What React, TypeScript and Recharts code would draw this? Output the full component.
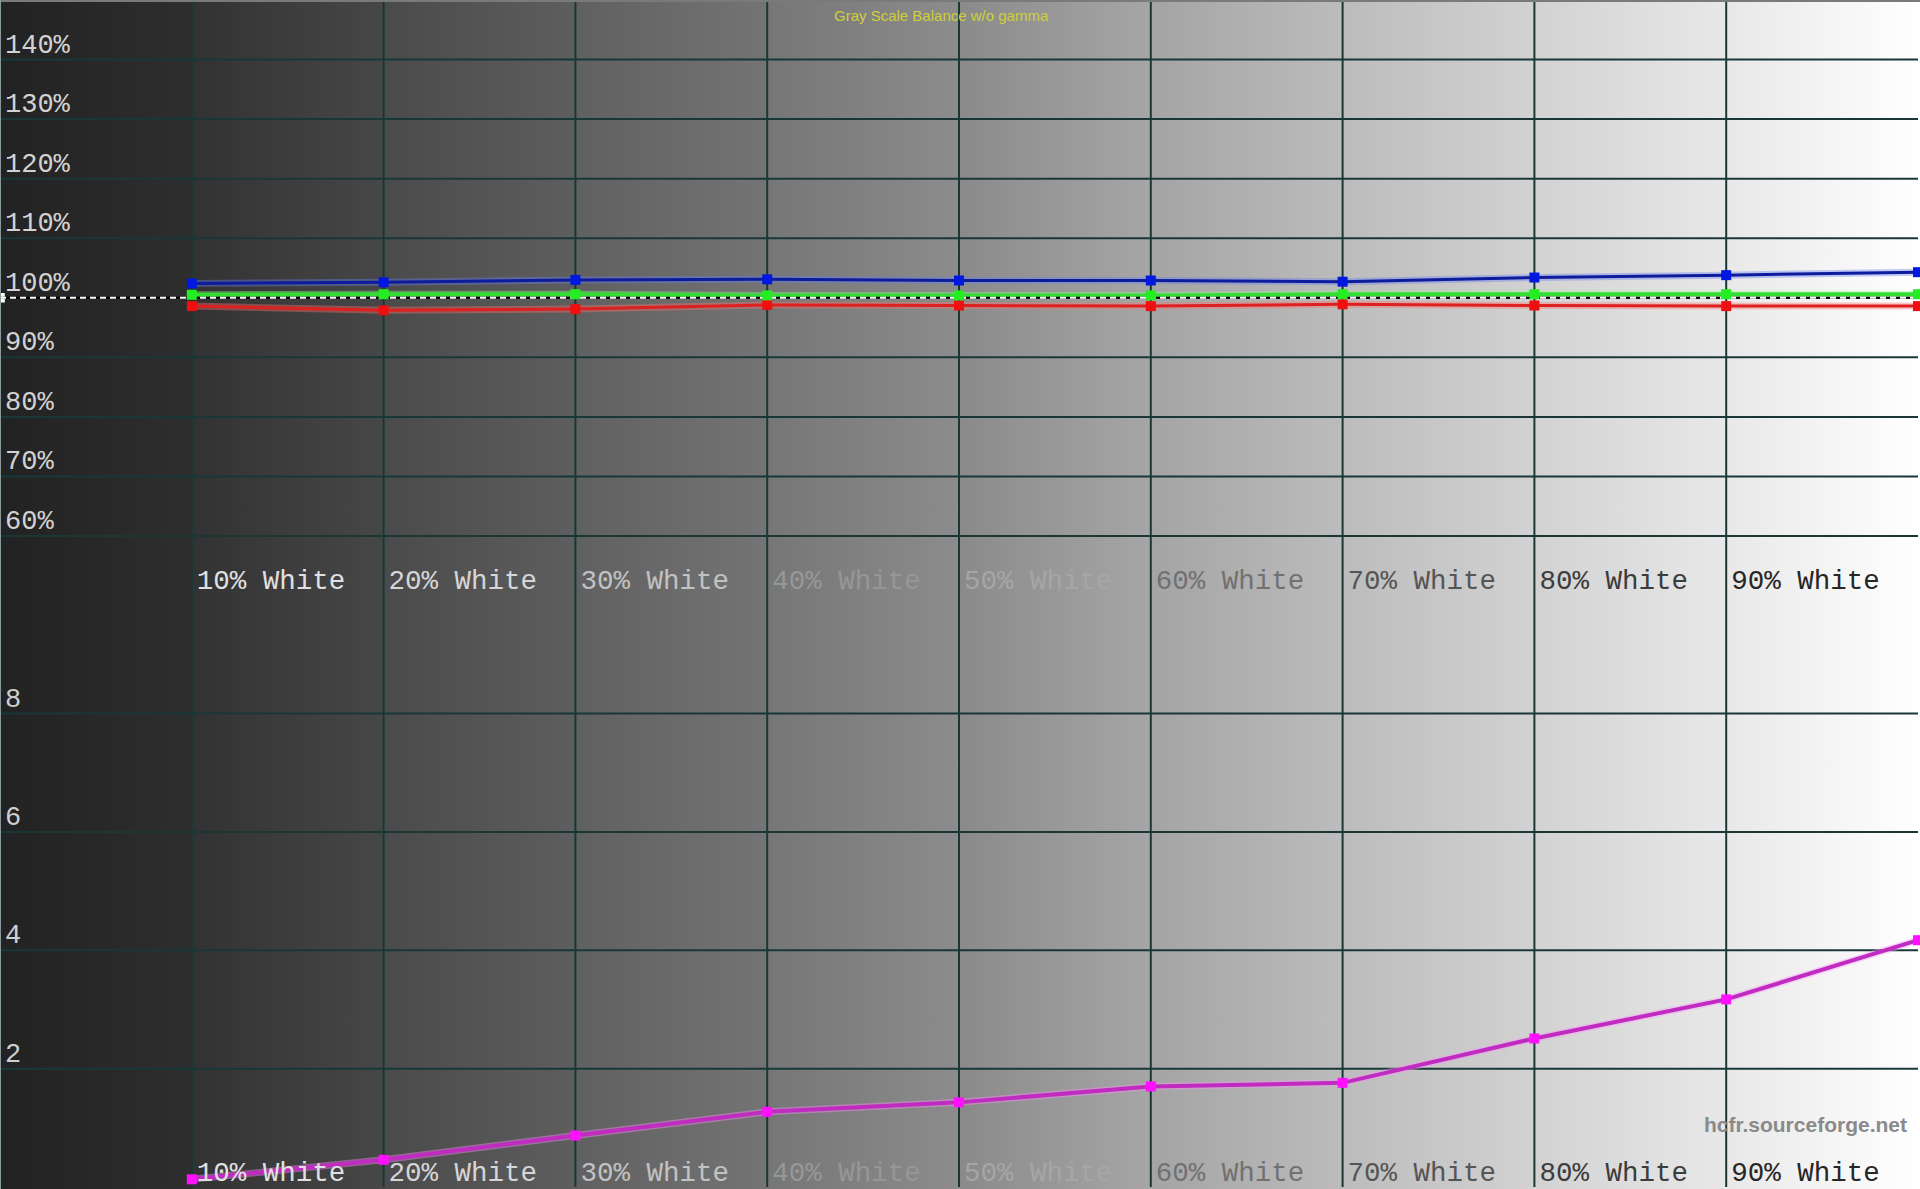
import * as React from "react";
import { LineChart, Line, XAxis, YAxis, CartesianGrid, ReferenceLine, ReferenceArea } from "recharts";

// stimulus levels (% white) and what HCFR measured at each
const STEPS = [10, 20, 30, 40, 50, 60, 70, 80, 90, 100];
const STEP_LABELS = [
  "10% White",
  "20% White",
  "30% White",
  "40% White",
  "50% White",
  "60% White",
  "70% White",
  "80% White",
  "90% White",
];
const RED = [98.6, 97.9, 98.1, 98.8, 98.7, 98.6, 98.9, 98.7, 98.6, 98.6];
const GREEN = [100.5, 100.6, 100.6, 100.4, 100.4, 100.4, 100.6, 100.6, 100.6, 100.6];
const BLUE = [102.4, 102.6, 103.0, 103.1, 102.9, 102.9, 102.7, 103.4, 103.8, 104.3];
const DELTA_E = [0.13, 0.46, 0.87, 1.27, 1.43, 1.7, 1.76, 2.51, 3.17, 4.17];

const PCT_TICKS = [60, 70, 80, 90, 100, 110, 120, 130, 140];
const DE_TICKS = [2, 4, 6, 8];

const W = 1920;
const TOP_H = 536;
const BOTTOM_H = 653;
const GRID = "#183838";
const MONO = "'Liberation Mono', 'DejaVu Sans Mono', monospace";

// label ink per column, picked to match the grey ramp behind it
const LABEL_INK = ["#e0e0e0", "#d6d6d6", "#c2c2c2", "#979797", "#a6a6a6", "#717171", "#555555", "#3c3c3c", "#262626"];

// each 10% column has its own little ramp
const BAND_RAMP = [
  ["#222222", "#2e2e2e"],
  ["#323232", "#474747"],
  ["#4a4a4a", "#5e5e5e"],
  ["#606060", "#747474"],
  ["#767676", "#8c8c8c"],
  ["#8a8a8a", "#a6a6a6"],
  ["#a4a4a4", "#bcbcbc"],
  ["#bcbcbc", "#d2d2d2"],
  ["#d2d2d2", "#e8e8e8"],
  ["#e8e8e8", "#ffffff"],
];

const balanceRows = STEPS.map((s, i) => ({ step: s, r: RED[i], g: GREEN[i], b: BLUE[i] }));
const deltaRows = STEPS.map((s, i) => ({ step: s, de: DELTA_E[i] }));
const gridX = STEPS.slice(0, 9);

const bandWidth = (W - 2) / 10;
const background = `linear-gradient(to right, ${BAND_RAMP.map(
  ([a, b], i) => `${a} ${(i * bandWidth).toFixed(1)}px, ${b} ${((i + 1) * bandWidth).toFixed(1)}px`
).join(", ")})`;

function square(fill: string, size = 10) {
  return (props: any) => {
    const { cx, cy, index } = props;
    if (cx == null || cy == null) return <g key={`x-${fill}-${index}`} />;
    return (
      <rect key={`sq-${fill}-${index}`} x={cx - size / 2} y={cy - size / 2} width={size} height={size} fill={fill} />
    );
  };
}

function PctTick({ y, payload }: any) {
  return (
    <text x={5} y={y - 7} fill="#d2d2d2" fontSize={27} fontFamily={MONO} textAnchor="start">
      {`${payload.value}%`}
    </text>
  );
}

function DeTick({ y, payload }: any) {
  return (
    <text x={5} y={y - 7} fill="#cfcfcf" fontSize={27} fontFamily={MONO} textAnchor="start">
      {payload.value}
    </text>
  );
}

function stepTick(dy: number) {
  return ({ x, y, payload }: any) => {
    const i = STEPS.indexOf(payload.value);
    return (
      <text x={x + 5} y={y + dy} fill={LABEL_INK[i]} fontSize={27.5} fontFamily={MONO} textAnchor="start">
        {STEP_LABELS[i]}
      </text>
    );
  };
}

// soft halo under each trace, the screenshot has that blurry edge
function halo(key: string, color: string) {
  return (
    <Line
      key={`halo-${key}`}
      type="linear"
      dataKey={key}
      stroke={color}
      strokeOpacity={0.4}
      strokeWidth={7}
      dot={false}
      activeDot={false}
      isAnimationActive={false}
    />
  );
}

export default function App(): React.ReactElement {
  return (
    <div style={{ position: "relative", width: W, height: TOP_H + BOTTOM_H, background, overflow: "hidden" }}>
      <style>{"body{margin:0}"}</style>

      <LineChart width={W} height={TOP_H} data={balanceRows} margin={{ top: 0, right: 2, bottom: 0, left: 0 }}>
        <CartesianGrid stroke={GRID} strokeWidth={2} horizontalValues={PCT_TICKS} verticalValues={gridX} />
        <XAxis dataKey="step" type="number" domain={[0, 100]} ticks={gridX} hide />
        <YAxis
          type="number"
          domain={[60, 150]}
          ticks={PCT_TICKS}
          mirror
          width={80}
          axisLine={false}
          tickLine={false}
          tickSize={0}
          tick={<PctTick />}
          interval={0}
          allowDataOverflow
        />
        {halo("b", "#6a7cf0")}
        {halo("r", "#ff7070")}
        {halo("g", "#90ff90")}
        <Line
          type="linear"
          dataKey="b"
          stroke="#0c1c9c"
          strokeWidth={3}
          dot={square("#0018e0")}
          activeDot={false}
          isAnimationActive={false}
        />
        <Line
          type="linear"
          dataKey="r"
          stroke="#dd2020"
          strokeWidth={3}
          dot={square("#ee1010")}
          activeDot={false}
          isAnimationActive={false}
        />
        <Line
          type="linear"
          dataKey="g"
          stroke="#33dd33"
          strokeWidth={4}
          dot={square("#22ee22")}
          activeDot={false}
          isAnimationActive={false}
        />
        <ReferenceLine y={100} stroke="#000000" strokeWidth={2} />
        <ReferenceLine y={100} stroke="#ffffff" strokeWidth={2} strokeDasharray="6 4" />
        <ReferenceArea x1={0} x2={0.25} y1={99.2} y2={100.8} fill="#ffffff" fillOpacity={1} stroke="none" />
      </LineChart>

      <LineChart width={W} height={BOTTOM_H} data={deltaRows} margin={{ top: 0, right: 2, bottom: 2, left: 0 }}>
        <CartesianGrid stroke={GRID} strokeWidth={2} horizontalValues={[...DE_TICKS, 11]} verticalValues={gridX} />
        <XAxis
          dataKey="step"
          type="number"
          domain={[0, 100]}
          ticks={gridX}
          mirror
          height={40}
          axisLine={false}
          tickLine={false}
          tickSize={0}
          tickMargin={0}
          tick={stepTick(-6)}
          interval={0}
        />
        <XAxis
          xAxisId="top"
          orientation="top"
          dataKey="step"
          type="number"
          domain={[0, 100]}
          ticks={gridX}
          mirror
          height={40}
          axisLine={false}
          tickLine={false}
          tickSize={0}
          tickMargin={0}
          tick={stepTick(53)}
          interval={0}
        />
        <YAxis
          type="number"
          domain={[0, 11]}
          ticks={DE_TICKS}
          mirror
          width={40}
          axisLine={false}
          tickLine={false}
          tickSize={0}
          tick={<DeTick />}
          interval={0}
          allowDataOverflow
        />
        {halo("de", "#ff90ff")}
        <Line
          type="linear"
          dataKey="de"
          stroke="#c02cc0"
          strokeWidth={4}
          dot={square("#ff10ff")}
          activeDot={false}
          isAnimationActive={false}
        />
      </LineChart>

      <div style={{ position: "absolute", left: 0, top: 0, width: W, height: 2, background: "#7a7a7a" }} />
      <div style={{ position: "absolute", left: 0, top: 0, width: 1, height: TOP_H + BOTTOM_H, background: "#8a9a9a" }} />
      <div
        style={{
          position: "absolute",
          left: 834,
          top: 7,
          fontFamily: "'Liberation Sans', Arial, sans-serif",
          fontSize: 15,
          color: "#cfcf3a",
          whiteSpace: "nowrap",
        }}
      >
        Gray Scale Balance w/o gamma
      </div>
      <div
        style={{
          position: "absolute",
          right: 13,
          top: 1113,
          fontFamily: "'Liberation Sans Narrow', 'Liberation Sans', Arial, sans-serif",
          fontWeight: 700,
          fontSize: 21,
          color: "#8a8a8a",
          whiteSpace: "nowrap",
        }}
      >
        hcfr.sourceforge.net
      </div>
    </div>
  );
}
